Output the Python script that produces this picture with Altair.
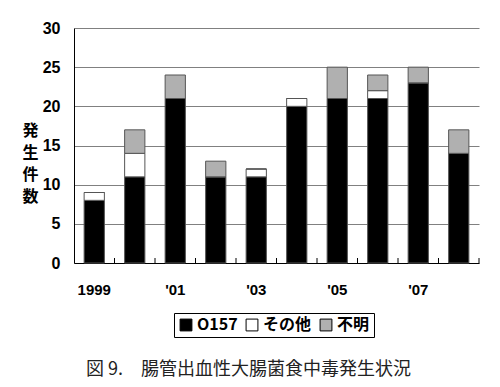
import altair as alt
import pandas as pd

years = ["1999", "2000", "2001", "2002", "2003", "2004", "2005", "2006", "2007", "2008"]
o157 = [8, 11, 21, 11, 11, 20, 21, 21, 23, 14]
other = [1, 3, 0, 0, 1, 1, 0, 1, 0, 0]
unknown = [0, 3, 3, 2, 0, 0, 4, 2, 2, 3]
categories = ["O157", "その他", "不明"]
colors = ["#000000", "#ffffff", "#b0b0b0"]

rows = []
for i, y in enumerate(years):
    for k, (cat, vals) in enumerate(zip(categories, [o157, other, unknown])):
        rows.append({"year": y, "cat": cat, "value": vals[i], "ord": k})
df = pd.DataFrame(rows)
ticks_df = pd.DataFrame({"year": years})

label_expr = "datum.value=='1999'?'1999':datum.value=='2001'?\"'01\":datum.value=='2003'?\"'03\":datum.value=='2005'?\"'05\":datum.value=='2007'?\"'07\":''"

font = "Noto Sans CJK JP"

xscale = alt.Scale(paddingInner=0.5, paddingOuter=0.25)

bars = alt.Chart(df).mark_bar(stroke="#555555", strokeWidth=1).encode(
    x=alt.X("year:N", scale=xscale, sort=years,
            axis=alt.Axis(title=None, labelExpr=label_expr, labelAngle=0, ticks=False,
                          domainColor="#000000", labelFont="Liberation Sans", labelFontWeight="bold",
                          labelFontSize=15, labelColor="#000000", labelPadding=19, grid=False)),
    y=alt.Y("value:Q", stack="zero",
            scale=alt.Scale(domain=[0, 30], nice=False),
            axis=alt.Axis(values=[0, 5, 10, 15, 20, 25, 30], ticks=False, title=["発", "生", "件", "数"],
                          titleAngle=0, titleFont=font, titleFontSize=16, titleFontWeight="bold",
                          titleX=-44, titleY=102, titleLineHeight=22, titleColor="#000000",
                          titleAlign="center", titleBaseline="middle",
                          labelFont="Liberation Sans", labelFontWeight="bold", labelFontSize=16,
                          labelColor="#000000", labelPadding=14,
                          gridColor="#808080", gridWidth=1, domainColor="#000000")),
    color=alt.Color("cat:N", sort=categories,
                    scale=alt.Scale(domain=categories, range=colors),
                    legend=alt.Legend(title=None, orient="none", legendX=100, legendY=285,
                                      direction="horizontal", symbolType="square",
                                      symbolStrokeColor="#000000", symbolStrokeWidth=1,
                                      symbolSize=140, labelFont=font, labelFontSize=16,
                                      labelFontWeight="bold", labelColor="#000000",
                                      columnPadding=6, labelOffset=3,
                                      strokeColor="#000000", padding=4,
                                      fillColor="#ffffff")),
    order=alt.Order("ord:Q"),
)

tick_marks = alt.Chart(ticks_df).mark_rule(color="#000000", strokeWidth=1, xOffset=10.125).encode(
    x=alt.X("year:N", sort=years, scale=xscale, bandPosition=1),
    y=alt.value(235),
    y2=alt.value(230),
)

chart = alt.layer(bars, tick_marks).properties(
    width=405, height=235,
    autosize=alt.AutoSizeParams(type="none"),
    padding={"left": 66, "top": 20, "right": 13, "bottom": 116},
    title=alt.TitleParams("図 9.　腸管出血性大腸菌食中毒発生状況", orient="bottom", anchor="start",
                          font=font, fontSize=18, fontWeight="normal", color="#222222",
                          dx=64, offset=23),
).configure_view(stroke=None)

chart.save("out.html", embed_options={"renderer": "svg", "actions": False})
